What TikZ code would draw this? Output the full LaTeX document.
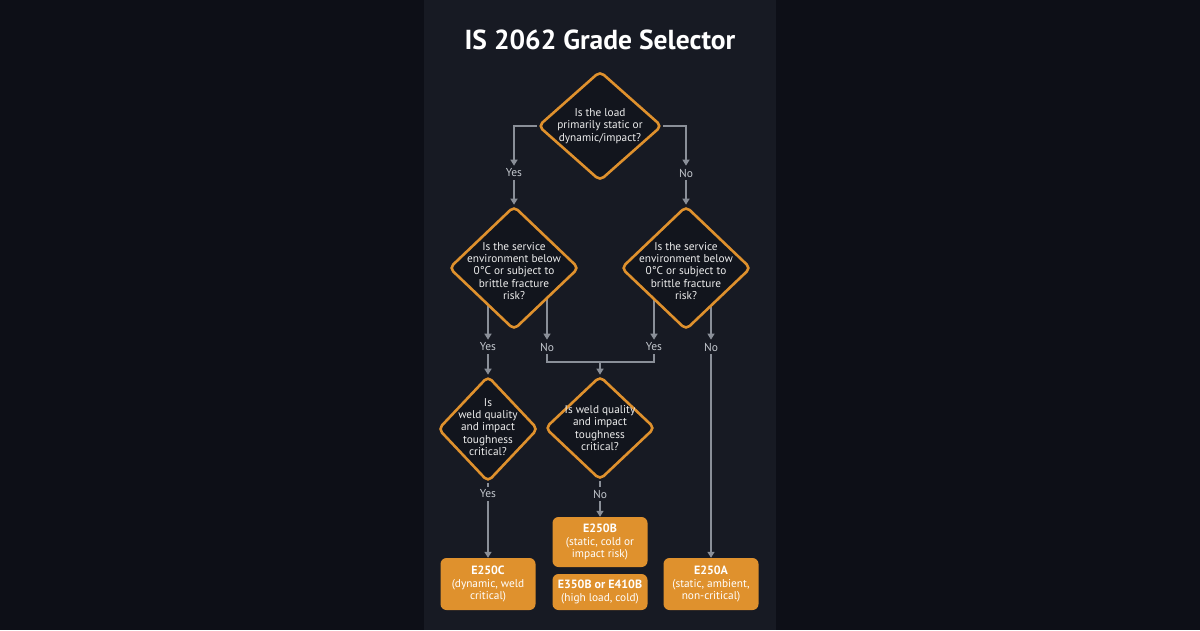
\documentclass[tikz,border=0pt]{standalone}
\usepackage{fontspec}
\setmainfont{PT Sans}
\usetikzlibrary{shapes.geometric,arrows.meta}
\definecolor{pagebg}{HTML}{0D0F17}
\definecolor{panel}{HTML}{171A23}
\definecolor{diafill}{HTML}{12151D}
\definecolor{accent}{HTML}{DF912D}
\definecolor{wire}{HTML}{8A8F98}
\definecolor{anstext}{HTML}{C4C8CE}
\definecolor{asktext}{HTML}{EDEDED}
\pgfdeclarelayer{bg}
\pgfdeclarelayer{wires}
\pgfsetlayers{bg,wires,main}

\begin{document}
\begin{tikzpicture}[x=1pt,y=-1pt,
    decision/.style={diamond, draw=accent, fill=diafill, line width=2.6pt, rounded corners=5pt, inner sep=0pt},
    ask/.style={text=asktext, align=center, font=\fontsize{11.3}{12.3}\selectfont, inner sep=0pt},
    answer/.style={text=anstext, font=\fontsize{11.5}{13}\selectfont, inner sep=3pt},
    grade/.style={fill=accent, rounded corners=6pt, text=white, align=center, minimum width=95pt, inner sep=0pt, font=\fontsize{11.3}{12.6}\selectfont},
    flow/.style={draw=wire, line width=1.3pt},
    flowarrow/.style={flow, -{Triangle[width=7pt,length=6pt]}}]
    \useasboundingbox (0,0) rectangle (1200,630);
    \begin{pgfonlayer}{bg}
      \fill[pagebg] (0,0) rectangle (1200,630);
      \fill[panel] (424,0) rectangle (776,630);
    \end{pgfonlayer}

    \node[text=white, font=\bfseries\fontsize{27.5}{32}\selectfont] (title) at (600,40) {IS 2062 Grade Selector};

    % questions
    \node[decision, minimum width=124pt, minimum height=110pt,
          label={[ask]center:{Is the load\\primarily static or\\dynamic/impact?}}] (load) at (600,126) {};
    \node[decision, minimum width=130pt, minimum height=124pt,
          label={[ask,yshift=-3pt]center:{Is the service\\environment below\\0°C or subject to\\brittle fracture\\risk?}}] (coldL) at (514,268) {};
    \node[decision, minimum width=130pt, minimum height=124pt,
          label={[ask,yshift=-3pt]center:{Is the service\\environment below\\0°C or subject to\\brittle fracture\\risk?}}] (coldR) at (686,268) {};
    \node[decision, minimum width=100pt, minimum height=106pt,
          label={[ask,yshift=2pt]center:{Is\\weld quality\\and impact\\toughness\\critical?}}] (weldL) at (488,429) {};
    \node[decision, minimum width=110pt, minimum height=104pt,
          label={[ask]center:{Is weld quality\\and impact\\toughness\\critical?}}] (weldM) at (600,428) {};

    % answers
    \node[answer] (yesA) at (514,173) {Yes};
    \node[answer] (noA)  at (686,173) {No};
    \node[answer] (yesB) at (488,347) {Yes};
    \node[answer] (noB)  at (547,347) {No};
    \node[answer] (yesC) at (654,347) {Yes};
    \node[answer] (noC)  at (711,347) {No};
    \node[answer] (yesD) at (488,494) {Yes};
    \node[answer] (noD)  at (600,494) {No};

    % grades
    \node[grade, minimum height=52pt] (e250c) at (488,584) {{\bfseries\large E250C}\\(dynamic, weld\\critical)};
    \node[grade, minimum height=50pt] (e250b) at (600,542) {{\bfseries\large E250B}\\(static, cold or\\impact risk)};
    \node[grade, minimum height=36pt] (e350b) at (600,592) {{\bfseries\large E350B or E410B}\\(high load, cold)};
    \node[grade, minimum height=52pt] (e250a) at (711,584) {{\bfseries\large E250A}\\(static, ambient,\\non-critical)};

    \coordinate (join) at (600,362);

    \begin{pgfonlayer}{wires}
      \draw[flowarrow] (load.west) -| (yesA.north);
      \draw[flowarrow] (load.east) -| (noA.north);
      \draw[flowarrow] (yesA.south) -- (coldL.north);
      \draw[flowarrow] (noA.south) -- (coldR.north);

      \draw[flowarrow] (yesB |- coldL.center) -- (yesB.north);
      \draw[flowarrow] (noB |- coldL.center) -- (noB.north);
      \draw[flowarrow] (yesC |- coldR.center) -- (yesC.north);
      \draw[flowarrow] (noC |- coldR.center) -- (noC.north);

      \draw[flowarrow] (yesB.south) -- (weldL.north);
      \draw[flow] (noB.south) |- (join) -| (yesC.south);
      \draw[flowarrow] (join) -- (weldM.north);
      \draw[flowarrow] (noC.south) -- (e250a.north);

      \draw[flow] (weldL.south) -- (yesD.north);
      \draw[flowarrow] (yesD.south) -- (e250c.north);
      \draw[flow] (weldM.south) -- (noD.north);
      \draw[flowarrow] (noD.south) -- (e250b.north);
    \end{pgfonlayer}
  \end{tikzpicture}
\end{document}
